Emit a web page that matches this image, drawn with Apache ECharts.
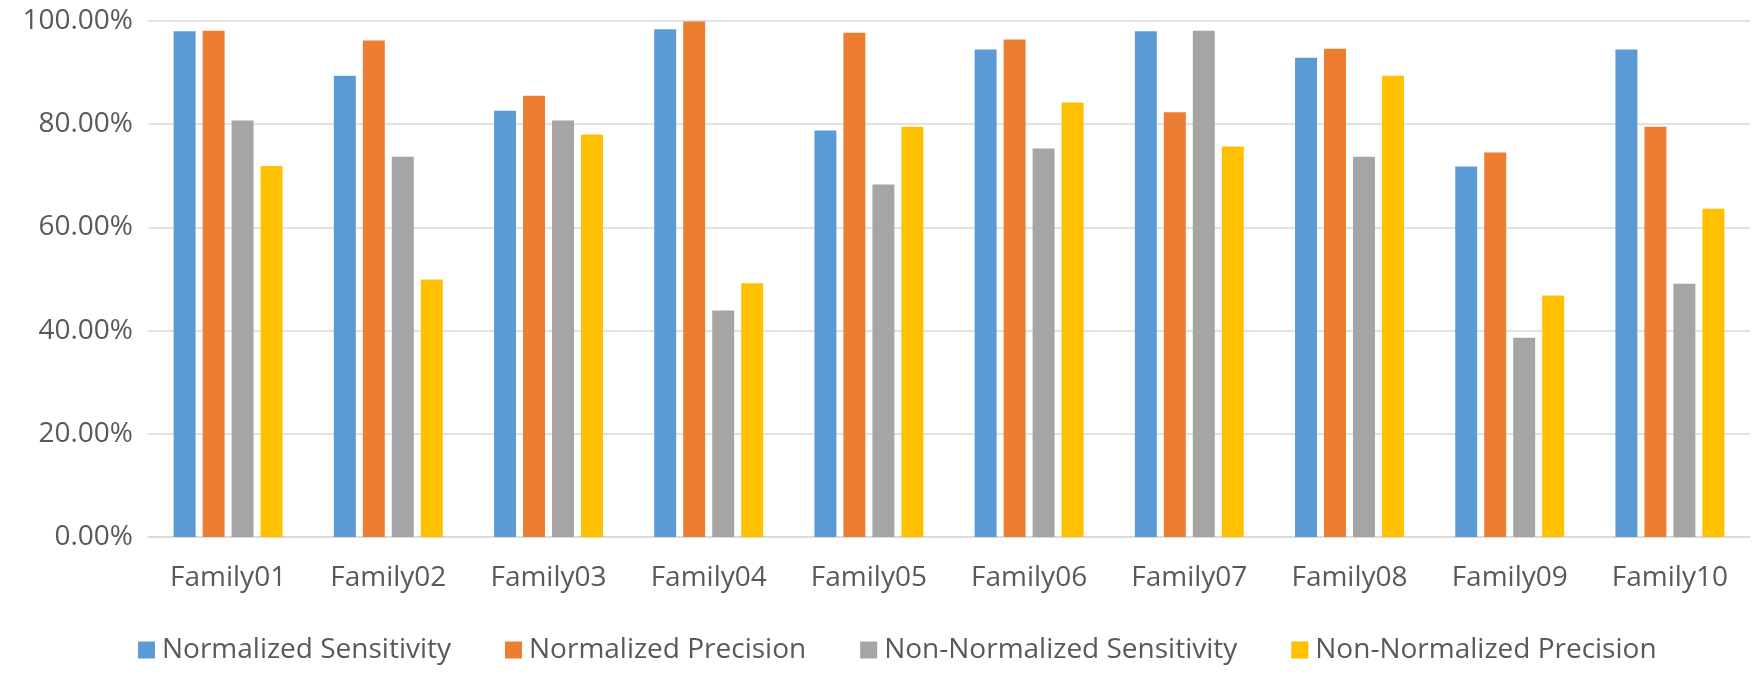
<!DOCTYPE html>
<html>
<head>
<meta charset="utf-8">
<script src="https://cdn.jsdelivr.net/npm/echarts@6/dist/echarts.min.js"></script>
<style>html,body{margin:0;padding:0;background:#fff}#c{width:1760px;height:674px}</style>
</head>
<body>
<div id="c"></div>
<script>
const categories = ['Family01','Family02','Family03','Family04','Family05','Family06','Family07','Family08','Family09','Family10'];
const normalizedSensitivity = [98.0, 89.4, 82.6, 98.4, 78.8, 94.5, 98.0, 92.9, 71.8, 94.5];
const normalizedPrecision = [98.1, 96.2, 85.5, 99.9, 97.7, 96.4, 82.3, 94.6, 74.5, 79.5];
const nonNormalizedSensitivity = [80.7, 73.7, 80.7, 43.9, 68.3, 75.3, 98.1, 73.7, 38.6, 49.1];
const nonNormalizedPrecision = [71.9, 49.9, 78.0, 49.2, 79.5, 84.2, 75.7, 89.4, 46.8, 63.6];
const seriesNames = ['Normalized Sensitivity','Normalized Precision','Non-Normalized Sensitivity','Non-Normalized Precision'];
const yTicks = [0, 20, 40, 60, 80, 100];

const colors = ['#5B9BD5','#ED7D31','#A5A5A5','#FFC000'];
const font = 'Open Sans';
const chart = echarts.init(document.getElementById('c'));
const data = [normalizedSensitivity, normalizedPrecision, nonNormalizedSensitivity, nonNormalizedPrecision];
chart.setOption({
  animation: false,
  color: colors,
  grid: {left: 148, right: 10, top: 21, bottom: 137, containLabel: false},
  legend: {
    top: 631, left: 133,
    itemWidth: 17, itemHeight: 17, itemGap: 54,
    icon: 'rect',
    textStyle: {fontFamily: font, fontSize: 28, color: '#595959', padding: [0,0,0,2]},
    data: seriesNames
  },
  xAxis: {
    type: 'category', data: categories,
    axisLine: {lineStyle: {color: '#D9D9D9', width: 1.5}},
    axisTick: {show: false},
    axisLabel: {fontFamily: font, fontSize: 28, color: '#595959', margin: 27}
  },
  yAxis: {
    type: 'value', min: yTicks[0], max: yTicks[yTicks.length-1], interval: 20,
    axisLine: {show: false}, axisTick: {show: false},
    splitLine: {lineStyle: {color: '#D9D9D9', width: 1.5}},
    axisLabel: {fontFamily: font, fontSize: 28, color: '#595959', margin: 15,
      formatter: v => v.toFixed(2) + '%'}
  },
  series: data.map((d, i) => ({
    name: seriesNames[i], type: 'bar', data: d,
    barGap: '32%', barCategoryGap: '32%',
    itemStyle: {color: colors[i]}
  }))
});
</script>
</body>
</html>
